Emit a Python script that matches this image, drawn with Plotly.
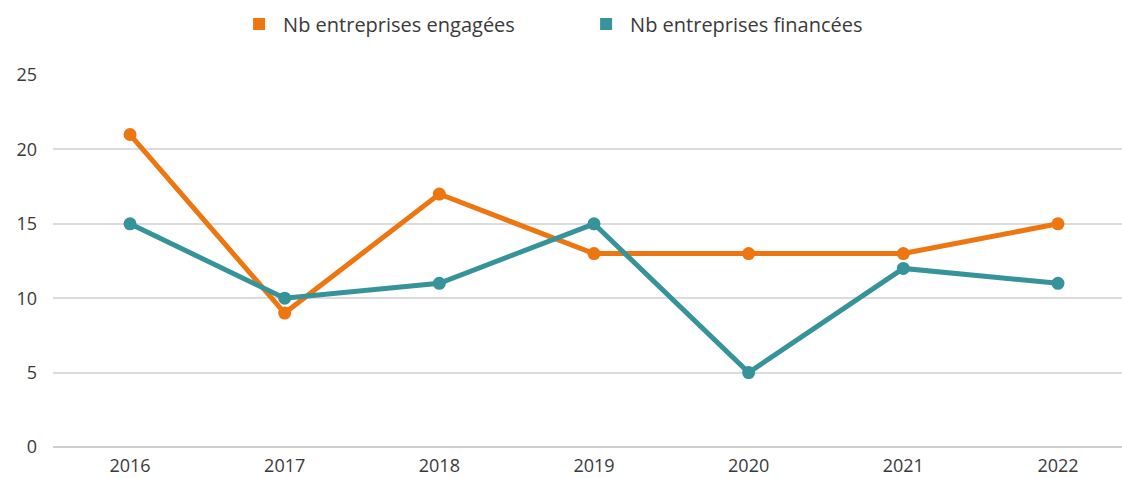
import plotly.graph_objects as go

years = [2016, 2017, 2018, 2019, 2020, 2021, 2022]
engagees = [21, 9, 17, 13, 13, 13, 15]
financees = [15, 10, 11, 15, 5, 12, 11]

ORANGE = "#EE7611"
TEAL = "#36939A"
FONT = "'Open Sans', 'Noto Sans', sans-serif"
TEXT = "#3A3A3A"

fig = go.Figure()

series = [
    ("Nb entreprises engagées", engagees, ORANGE),
    ("Nb entreprises financées", financees, TEAL),
]

for name, vals, col in series:
    fig.add_trace(go.Scatter(
        x=years, y=vals, mode="lines+markers", name=name,
        line=dict(color=col, width=5),
        marker=dict(color=col, size=13),
        showlegend=False,
    ))

# legend entries drawn as square swatches
for name, vals, col in series:
    fig.add_trace(go.Scatter(
        x=[None], y=[None], mode="markers", name=name,
        marker=dict(color=col, size=13, symbol="square"),
        showlegend=True,
    ))

fig.update_layout(
    width=1122, height=478,
    margin=dict(l=53, r=0, t=75, b=31, autoexpand=False),
    paper_bgcolor="white", plot_bgcolor="white",
    font=dict(family=FONT, color=TEXT, size=17),
    legend=dict(
        orientation="h", xref="container", yref="container",
        x=0.5188, xanchor="center", y=1 - 24 / 478, yanchor="middle",
        font=dict(size=20, color=TEXT),
        itemsizing="constant", traceorder="normal",
        entrywidth=294, entrywidthmode="pixels", itemwidth=38,
    ),
    xaxis=dict(
        range=[2015.502, 2022.414], automargin=False,
        tickmode="array", tickvals=years, ticktext=[str(y) for y in years],
        showgrid=False, zeroline=False, showline=False,
        ticks="", ticklabelstandoff=6,
        tickfont=dict(size=18, color=TEXT),
    ),
    yaxis=dict(
        range=[0, 25], tickvals=[0, 5, 10, 15, 20, 25], automargin=False,
        showgrid=True, gridcolor="#DCDCDC", gridwidth=1.5,
        zeroline=True, zerolinecolor="#CFCFCF", zerolinewidth=1.5,
        showline=False, ticks="", ticklabelstandoff=15,
        tickfont=dict(size=18, color=TEXT),
    ),
)

fig.write_html("out.html")
